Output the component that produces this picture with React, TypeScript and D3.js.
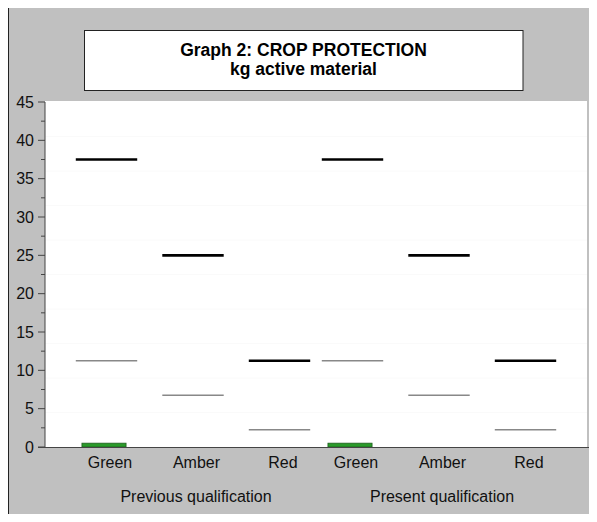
import React from 'react';
import * as d3 from 'd3';

const groups = ['Previous qualification', 'Present qualification'];
const categories = ['Green', 'Amber', 'Red'];
// per group, per category
const barValues = [[0.5, 0, 0], [0.5, 0, 0]];
const upperLimits = [[37.5, 25, 11.25], [37.5, 25, 11.25]];
const lowerLimits = [[11.25, 6.75, 2.25], [11.25, 6.75, 2.25]];
const yTicks = [0, 5, 10, 15, 20, 25, 30, 35, 40, 45];
const yMinor = [2.5, 7.5, 12.5, 17.5, 22.5, 27.5, 32.5, 37.5, 42.5];
const gridLines = [4.5, 9, 13.5, 18, 22.5, 27, 31.5, 36, 40.5];

const W = 597;
const H = 522;
const plot = { left: 45, right: 587, top: 101, bottom: 447 };

export default function App() {
  const y = d3.scaleLinear().domain([0, 45]).range([plot.bottom, 102]);
  const xGroup = d3.scaleBand<string>().domain(groups).range([70, 562]).padding(0);
  const xCat = d3.scalePoint<string>().domain(categories).range([0, xGroup.bandwidth()]).padding(0.422);
  const step = xCat.step();
  const lineW = step * 0.71;
  const barW = step * 0.51;
  const font = 'Arial, "Liberation Sans", sans-serif';

  return (
    <svg width={W} height={H} style={{ display: 'block', margin: -8 }} fontFamily={font}>
      <rect x={8} y={7} width={W + 10} height={513} fill="#c0c0c0" stroke="#222" strokeWidth={2} />
      <rect x={84.5} y={30.5} width={438.5} height={60} fill="#fff" stroke="#222" strokeWidth={1} />
      <text x={303.5} y={56} textAnchor="middle" fontSize={17.5} fontWeight="bold" fill="#000">Graph 2: CROP PROTECTION</text>
      <text x={303.5} y={75} textAnchor="middle" fontSize={17.5} fontWeight="bold" fill="#000">kg active material</text>

      <rect x={plot.left} y={plot.top} width={plot.right - plot.left} height={plot.bottom - plot.top} fill="#fff" />
      {gridLines.map(v => (
        <line key={v} x1={plot.left} x2={plot.right} y1={y(v)} y2={y(v)} stroke="#fafafa" strokeWidth={1} />
      ))}

      {groups.map((g, gi) => (
        <g key={g}>
          {categories.map((c, ci) => {
            const cx = (xGroup(g) ?? 0) + (xCat(c) ?? 0);
            return (
              <g key={c}>
                {barValues[gi][ci] > 0 && (
                  <rect x={cx - 2.5 - barW / 2} y={y(barValues[gi][ci])} width={barW}
                    height={y(0) - y(barValues[gi][ci])} fill="#2a9a2a" stroke="#1f5f1f" strokeWidth={0.8} />
                )}
                <line x1={cx - lineW / 2} x2={cx + lineW / 2} y1={y(lowerLimits[gi][ci])} y2={y(lowerLimits[gi][ci])}
                  stroke="#888" strokeWidth={1.3} />
                <line x1={cx - lineW / 2} x2={cx + lineW / 2} y1={y(upperLimits[gi][ci])} y2={y(upperLimits[gi][ci])}
                  stroke="#000" strokeWidth={2.6} />
                <text x={cx + 3.5} y={468} textAnchor="middle" fontSize={16} fill="#111">{c}</text>
              </g>
            );
          })}
          <text x={(xGroup(g) ?? 0) + xGroup.bandwidth() / 2 + 3} y={502} textAnchor="middle" fontSize={16} fill="#111">{g}</text>
        </g>
      ))}

      <line x1={plot.left} x2={plot.left} y1={102} y2={plot.bottom} stroke="#444" strokeWidth={1} />
      <line x1={38} x2={593} y1={plot.bottom + 0.5} y2={plot.bottom + 0.5} stroke="#444" strokeWidth={1} />
      {yTicks.map(t => (
        <g key={t}>
          <line x1={38} x2={plot.left} y1={y(t)} y2={y(t)} stroke="#444" strokeWidth={1} />
          <text x={34} y={y(t)} dy="0.35em" textAnchor="end" fontSize={16} fill="#111">{t}</text>
        </g>
      ))}
      {yMinor.map(t => (
        <line key={t} x1={41} x2={plot.left} y1={y(t)} y2={y(t)} stroke="#444" strokeWidth={1} />
      ))}
    </svg>
  );
}
